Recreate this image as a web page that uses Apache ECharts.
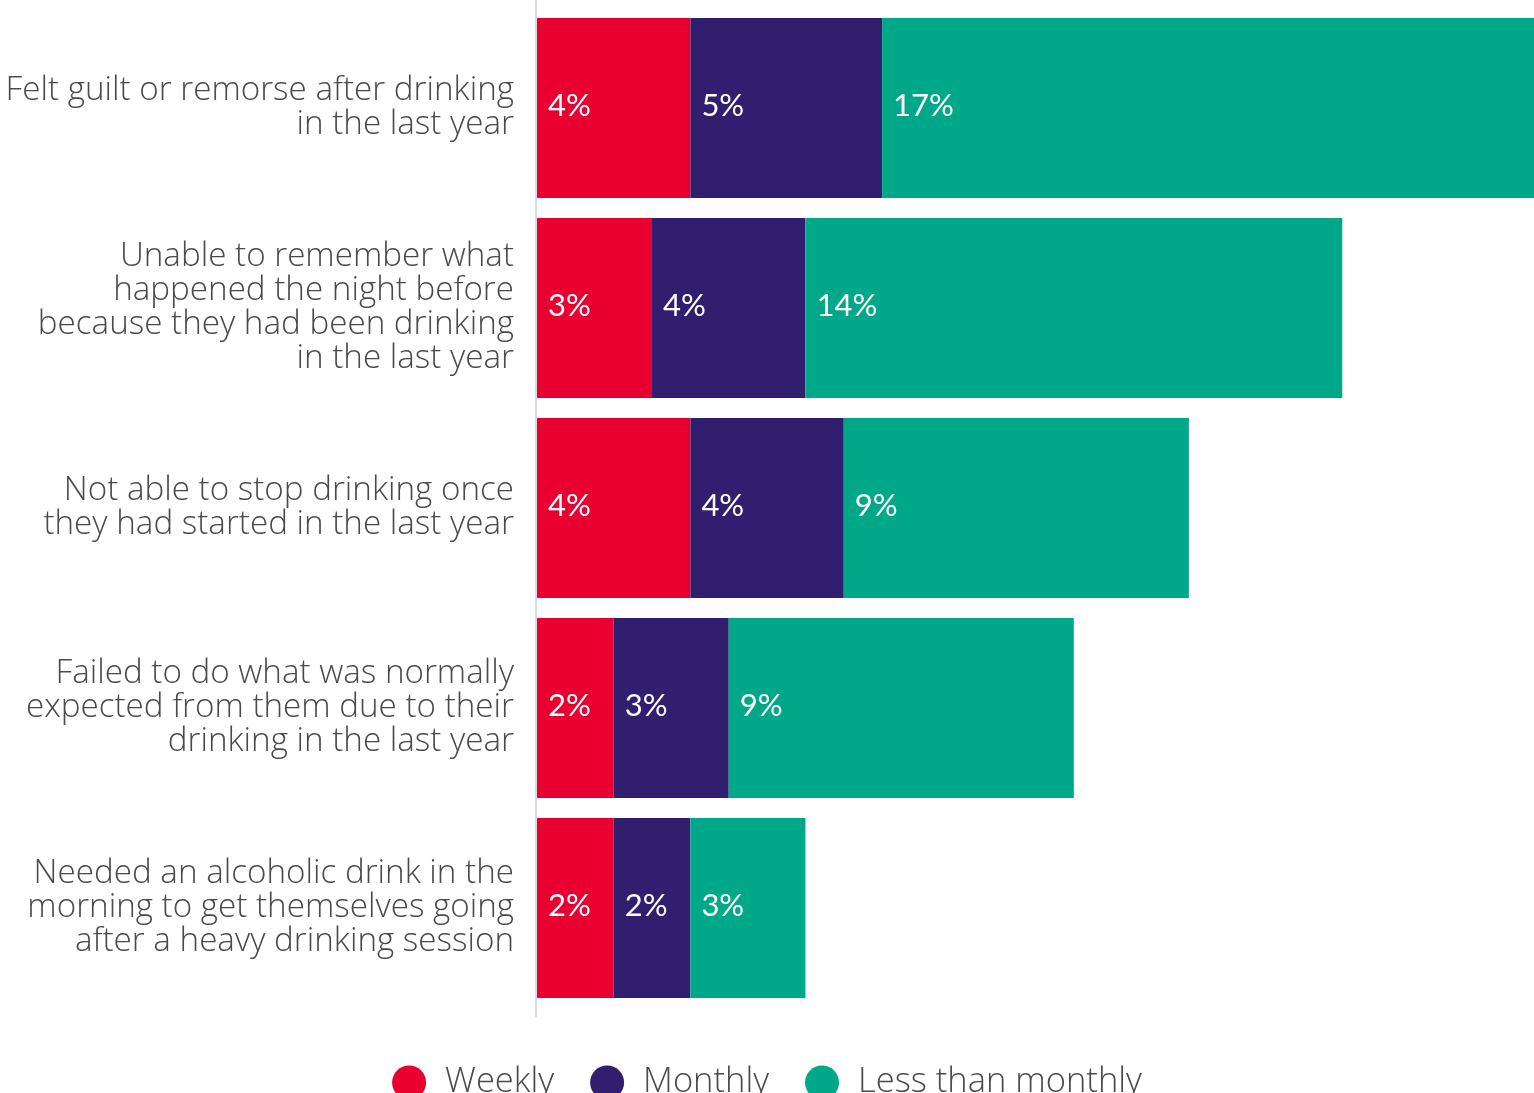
<!DOCTYPE html>
<html>
<head>
<meta charset="utf-8">
<title>Drinking behaviours in the last year</title>
<script src="https://cdn.jsdelivr.net/npm/echarts@6/dist/echarts.min.js"></script>
<style>
  html, body { margin: 0; padding: 0; background: #ffffff; }
  #chart { width: 1534px; height: 1093px; }
</style>
</head>
<body>
<div id="chart"></div>
<script>
// Statements, top to bottom
const categories = [
  'Felt guilt or remorse after drinking\nin the last year',
  'Unable to remember what\nhappened the night before\nbecause they had been drinking\nin the last year',
  'Not able to stop drinking once\nthey had started in the last year',
  'Failed to do what was normally\nexpected from them due to their\ndrinking in the last year',
  'Needed an alcoholic drink in the\nmorning to get themselves going\nafter a heavy drinking session'
];

// Share of respondents (%) by frequency
const weekly = [4, 3, 4, 2, 2];
const monthly = [5, 4, 4, 3, 2];
const lessThanMonthly = [17, 14, 9, 9, 3];

const seriesNames = ['Weekly', 'Monthly', 'Less than monthly'];
const colors = ['#E90030', '#321E6E', '#00A88A'];

const TEXT_FONT = '"Open Sans", Lato, sans-serif';
const VALUE_FONT = 'Lato, "Open Sans", sans-serif';

const chart = echarts.init(document.getElementById('chart'), null, { renderer: 'canvas' });

function barSeries(name, data, color) {
  return {
    name: name,
    type: 'bar',
    stack: 'total',
    data: data,
    barWidth: 180,
    itemStyle: { color: color },
    label: {
      show: true,
      position: 'insideLeft',
      distance: 11,
      offset: [0, -2],
      color: '#ffffff',
      fontFamily: VALUE_FONT,
      fontSize: 31,
      formatter: '{c}%'
    },
    emphasis: { disabled: true }
  };
}

chart.setOption({
  animation: false,
  color: colors,
  grid: {
    left: 537, right: 0, top: 8, height: 1000,
    containLabel: false,
    outerBoundsMode: 'none'
  },
  xAxis: {
    type: 'value',
    min: 0,
    max: 26,
    show: false
  },
  yAxis: {
    type: 'category',
    data: categories,
    inverse: true,
    axisLine: { show: false },
    axisTick: { show: false },
    axisLabel: {
      margin: 23,
      color: '#4a4a4a',
      fontFamily: TEXT_FONT,
      fontWeight: 300,
      fontSize: 33.2,
      lineHeight: 34,
      align: 'right'
    }
  },
  legend: {
    data: seriesNames,
    left: 'center',
    top: 1060,
    icon: 'circle',
    itemWidth: 34,
    itemHeight: 34,
    itemGap: 36,
    textStyle: { color: '#4a4a4a', fontFamily: TEXT_FONT, fontWeight: 300, fontSize: 34.5, padding: [0, 0, 0, 14] },
    selectedMode: false
  },
  series: [
    barSeries(seriesNames[0], weekly, colors[0]),
    barSeries(seriesNames[1], monthly, colors[1]),
    barSeries(seriesNames[2], lessThanMonthly, colors[2])
  ]
});

// Baseline rule at zero, running a little past the first and last bars
const zeroX = chart.convertToPixel({ xAxisIndex: 0 }, 0);
chart.setOption({
  graphic: [{
    type: 'line',
    z: 10,
    shape: { x1: zeroX - 1, y1: 0, x2: zeroX - 1, y2: 1017 },
    style: { stroke: '#dcdcdc', lineWidth: 2 }
  }]
});
</script>
</body>
</html>
